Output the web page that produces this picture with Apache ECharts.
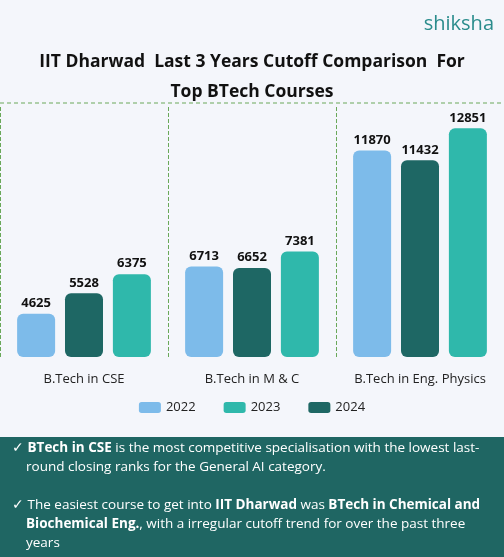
<!DOCTYPE html>
<html lang="en">
<head>
  <meta charset="UTF-8">
  <title>IIT Dharwad cutoff</title>
  <script src="https://cdn.jsdelivr.net/npm/echarts@6/dist/echarts.min.js"></script>
  <style>html,body{margin:0;padding:0;background:#f4f6fb;}</style>
</head>
<body>
<div id="chart" style="width:504px;height:557px;"></div>
<script>
  var courses = ['B.Tech in CSE', 'B.Tech in M & C', 'B.Tech in Eng. Physics'];
  var ranks2022 = [4625, 6713, 11870];
  var ranks2024 = [5528, 6652, 11432];
  var ranks2023 = [6375, 7381, 12851];

  var font = '"Open Sans", "Noto Sans", sans-serif';
  var barLabel = { show: true, position: 'top', color: '#111', fontWeight: 'bold', fontSize: 13, fontFamily: font, distance: 4 };

  function bars(name, data, color) {
    return {
      name: name, type: 'bar', data: data, barWidth: 38, barGap: '26%',
      itemStyle: { color: color, borderRadius: 6 },
      label: barLabel
    };
  }

  var chart = echarts.init(document.getElementById('chart'));
  chart.setOption({
    backgroundColor: '#f4f6fb',
    textStyle: { fontFamily: font },
    title: {
      text: 'IIT Dharwad  Last 3 Years Cutoff Comparison  For\nTop BTech Courses',
      left: 'center', top: 42,
      textStyle: { fontSize: 17.5, fontWeight: 'bold', color: '#111', lineHeight: 30, fontFamily: font }
    },
    legend: {
      data: ['2022', '2023', '2024'], bottom: 138, itemWidth: 22, itemHeight: 11, itemGap: 28,
      textStyle: { fontSize: 13, color: '#222' }
    },
    grid: { left: 0, right: 0, top: 107, bottom: 200 },
    xAxis: {
      type: 'category', data: courses,
      axisLine: { show: false }, axisTick: { show: false },
      axisLabel: { fontSize: 13, color: '#222', margin: 16, interval: 0 },
      splitLine: { show: true, lineStyle: { color: '#6aa85a', type: 'dashed', width: 1 } }
    },
    yAxis: { type: 'value', min: 2700, max: 13800, show: false, splitLine: { show: false } },
    series: [
      bars('2022', ranks2022, '#7dbbea'),
      bars('2024', ranks2024, '#1e6764'),
      bars('2023', ranks2023, '#2fb8ab')
    ],
    graphic: [
      { type: 'line', shape: { x1: 0, y1: 103, x2: 504, y2: 103 }, style: { stroke: '#6aa85a', lineDash: [4, 3], lineWidth: 1 } },
      { type: 'text', right: 10, top: 14, style: { text: 'shiksha', fill: '#2a8c8c', fontSize: 20, fontFamily: font } },
      { type: 'rect', shape: { x: 0, y: 437, width: 504, height: 120 }, style: { fill: '#1f6663' } },
      {
        type: 'text', left: 12, top: 439,
        style: {
          text: '{c|✓} {b|BTech in CSE} is the most competitive specialisation with the lowest last-\n    round closing ranks for the General AI category.\n\n{c|✓} The easiest course to get into {b|IIT Dharwad} was {b|BTech in Chemical and}\n    {b|Biochemical Eng.}, with a irregular cutoff trend for over the past three\n    years',
          fill: '#ffffff', fontSize: 13.5, lineHeight: 19, fontFamily: font,
          rich: {
            b: { fontWeight: 'bold', fill: '#ffffff', fontSize: 13.5, fontFamily: font },
            c: { fill: '#ffffff', fontSize: 13.5 }
          }
        }
      }
    ]
  });
</script>
</body>
</html>
